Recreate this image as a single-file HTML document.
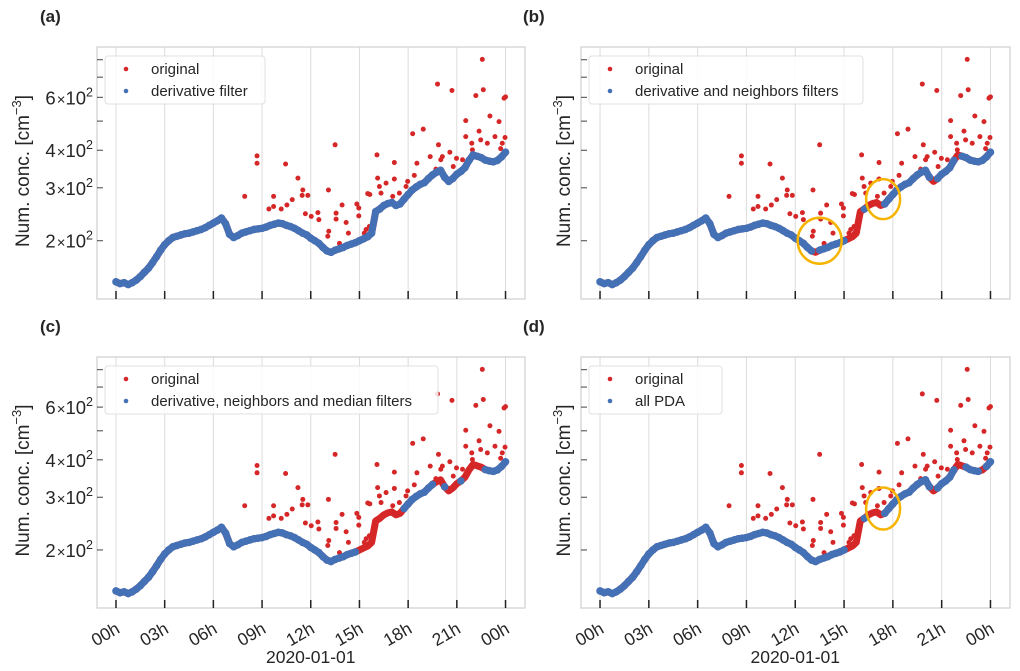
<!DOCTYPE html>
<html><head><meta charset="utf-8">
<style>
html,body{margin:0;padding:0;background:#fff;}
svg{display:block;font-family:"Liberation Sans",sans-serif;}
</style></head>
<body>
<svg id="fig" width="1020" height="671" viewBox="0 0 1020 671" xmlns="http://www.w3.org/2000/svg"></svg>
<script>
// ---- data ----
const tickLabels = ["00h","03h","06h","09h","12h","15h","18h","21h","00h"];
const tickHours = [0,3,6,9,12,15,18,21,24];
const baseHours = [];
for (let i = 0; i <= 96; i++) baseHours.push(i * 0.25);
const baseValues = [146,144,145,143,145,148,152,157,162,169,177,186,194,200,205,207,209,211,212,214,216,218,221,225,229,233,238,228,210,205,208,212,214,216,218,219,220,222,225,227,229,228,225,223,220,216,212,209,204,200,196,190,185,183,186,188,190,193,195,197,200,203,206,212,250,255,262,266,268,262,265,275,285,295,302,308,312,322,331,338,343,325,315,322,333,340,350,370,386,382,378,371,368,366,370,380,394];
const outlierHours = [7.93,8.69,8.69,9.42,9.71,9.71,10.18,10.45,10.53,10.86,11.21,11.51,11.47,11.82,11.67,12.03,12.44,12.50,13.09,13.11,13.50,13.56,13.56,13.93,14.18,14.32,14.84,14.96,14.96,15.51,15.64,16.08,16.12,16.23,16.33,16.64,17.15,17.15,17.46,17.97,18.28,18.38,18.54,18.93,19.36,19.71,19.81,19.87,20.01,20.57,20.70,20.78,20.98,21.55,21.55,21.92,22.17,22.37,22.47,22.57,22.63,22.88,23.04,23.35,23.60,23.70,23.80,23.91,23.97,24.0,21.96,21.35,20.11,17.87,17.05,15.41,15.61,15.30,13.77,13.05];
const outlierValues = [281,383,362,255,281,260,255,360,263,274,323,295,283,283,246,241,248,235,295,215,417,247,236,263,230,212,265,257,242,287,285,386,323,303,288,311,364,321,288,315,454,330,362,470,381,346,664,417,372,394,632,353,376,502,444,422,608,463,433,802,636,422,520,444,498,405,422,596,441,602,401,372,381,303,281,218,223,212,196,207];
// hour ranges removed by filters in each panel
const removedA = [];
const removedB = [[13.2,13.4],[15.2,16.0],[16.3,17.3],[20.3,20.6],[21.8,22.2]];
const removedC = [[15.0,16.0],[16.2,17.5],[19.6,20.0],[20.4,21.0],[21.4,22.6]];
const removedD = [[15.2,16.0],[16.3,17.3],[20.3,20.6],[21.8,22.3],[23.3,23.6]];

const panels = [
  {id:"a", label:"(a)", lx:40, ly:22, x0:97, x1:525, y0:47, y1:299, leg:["derivative filter"], legW:160, removed:removedA, ticks:true, xlab:false, circles:[]},
  {id:"b", label:"(b)", lx:523, ly:22, x0:581, x1:1010, y0:47, y1:299, leg:["derivative and neighbors filters"], legW:274, removed:removedB, ticks:false, xlab:false, circles:[[13.5,200,22,23],[17.4,275,17,20]]},
  {id:"c", label:"(c)", lx:40, ly:332, x0:97, x1:525, y0:357, y1:608, leg:["derivative, neighbors and median filters"], legW:333, removed:removedC, ticks:true, xlab:true, circles:[]},
  {id:"d", label:"(d)", lx:523, ly:332, x0:581, x1:1010, y0:357, y1:608, leg:["all PDA"], legW:133, removed:removedD, ticks:false, xlab:true, circles:[[17.4,275,17,21]]}
];
const RED = "#d62728", BLUE = "#4470b5", ORANGE = "#f6b400";
const hMin = -1.17, hMax = 25.2, vMin = 128, vMax = 882;
const NS = "http://www.w3.org/2000/svg";
const fig = document.getElementById("fig");
function mk(tag, attrs, parent){ const e=document.createElementNS(NS,tag); for(const k in attrs) e.setAttribute(k,attrs[k]); (parent||fig).appendChild(e); return e; }

panels.forEach(p => {
  const g = mk("g",{});
  
  
  const xs = h => p.x0 + (h - hMin) / (hMax - hMin) * (p.x1 - p.x0);
  const ys = v => p.y1 - (Math.log10(v) - Math.log10(vMin)) / (Math.log10(vMax) - Math.log10(vMin)) * (p.y1 - p.y0);
  tickHours.forEach((h,i) => {
    const l = mk("line",{x1:xs(h),x2:xs(h),y1:p.y0,y2:p.y1,stroke:"#dcdcdc","stroke-width":1},g);
    
    
  });
  const fr = mk("rect",{x:p.x0,y:p.y0,width:p.x1-p.x0,height:p.y1-p.y0,fill:"none",stroke:"#cfcfcf","stroke-width":1.2},g);
  
  
  tickHours.forEach((h,i) => {
    const t = mk("line",{x1:xs(h),x2:xs(h),y1:p.y1-8,y2:p.y1,stroke:"#222","stroke-width":1.5},g);
    
    
    if (p.xlab) {
      const tx = mk("text",{x:xs(h)+5,y:p.y1+24,"font-size":17.5,fill:"#262626","text-anchor":"end",transform:`rotate(-30 ${xs(h)+5} ${p.y1+24})`},g);
      tx.textContent = tickLabels[i];
      
      
    }
  });
  [2,3,4,5,6,7,8].forEach(m => {
    const v = m*100, y = ys(v);
    const t = mk("line",{x1:p.x0,x2:p.x0+6,y1:y,y2:y,stroke:"#444","stroke-width":1},g);
    
    
    if (p.ticks && [2,3,4,6].includes(m)) {
      const tx = mk("text",{x:p.x0-4,y:y+7,"font-size":18.5,fill:"#262626","text-anchor":"end"},g);
      tx.innerHTML = m + '<tspan font-size="15" dx="1">×</tspan>10<tspan dy="-8" font-size="12.5">2</tspan>';
      
      
    }
  });
  const cy = (p.y0+p.y1)/2 - 2, lxp = p.ticks ? 29 : p.x0 - 11;
  const yl = mk("text",{x:lxp,y:cy,"font-size":19,fill:"#262626","text-anchor":"middle",transform:`rotate(-90 ${lxp} ${cy})`},g);
  yl.innerHTML = 'Num. conc. [cm<tspan dy="-8" font-size="13">−3</tspan><tspan dy="8">]</tspan>';
  
  
  if (p.xlab) {
    const xl = mk("text",{x:xs(12),y:p.y1+55,"font-size":17.5,fill:"#262626","text-anchor":"middle"},g);
    xl.textContent = "2020-01-01";
    
    
  }
  const pl = mk("text",{x:p.lx,y:p.ly,"font-size":17,"font-weight":"bold",fill:"#262626"},g);
  pl.textContent = p.label;
  
  
  const origLine = mk("polyline",{points:baseHours.map((h,i)=>xs(h)+","+ys(baseValues[i])).join(" "),fill:"none",stroke:RED,"stroke-width":7,"stroke-linejoin":"round"},g);
  
  
  outlierHours.forEach((h,i) => {
    const c = mk("circle",{cx:xs(h),cy:ys(outlierValues[i]),r:2.5,fill:RED},g);
    
    
  });
  const keep = h => !p.removed.some(r => h >= r[0] && h <= r[1]);
  let seg = [];
  const flush = () => {
    if (seg.length > 1) {
      const pl2 = mk("polyline",{points:seg.join(" "),fill:"none",stroke:BLUE,"stroke-width":7,"stroke-linejoin":"round","stroke-linecap":"round"},g);
      
      
    }
    seg = [];
  };
  baseHours.forEach((h,i) => {
    if (keep(h)) {
      seg.push(xs(h)+","+ys(baseValues[i]));
      const c = mk("circle",{cx:xs(h),cy:ys(baseValues[i]),r:3.8,fill:BLUE},g);
      
      
    } else flush();
  });
  flush();
  p.circles.forEach(cc => {
    const e = mk("ellipse",{cx:xs(cc[0]),cy:ys(cc[1]),rx:cc[2],ry:cc[3],fill:"none",stroke:ORANGE,"stroke-width":2.5},g);
    
    
  });
  const lg = mk("g",{},g);
  
  
  const bx = p.x0+8, by = p.y0+9;
  mk("rect",{x:bx,y:by,width:p.legW,height:48,rx:3,fill:"#fff","fill-opacity":0.85,stroke:"#e0e0e0"},lg);
  [["original",RED],[p.leg[0],BLUE]].forEach((e,i) => {
    const yy = by + 13 + i*22;
    const c = mk("circle",{cx:bx+21,cy:yy,r:2.3,fill:e[1]},lg);
    
    
    const t = mk("text",{x:bx+46,y:yy+5,"font-size":15,fill:"#262626"},lg);
    t.textContent = e[0];
    
    
  });
});
</script>
</body></html>
